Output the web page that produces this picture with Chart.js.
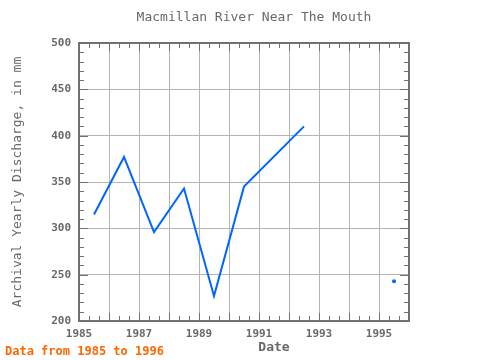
<!DOCTYPE html>
<html lang="en">
<head>
  <meta charset="UTF-8">
  <title>Macmillan River Near The Mouth</title>
  <script src="https://cdn.jsdelivr.net/npm/chart.js"></script>
  <style>
    body{margin:0;background:#fff;}
    #wrap{width:480px;height:360px;position:relative;}
  </style>
</head>
<body>
  <div id="wrap"><canvas id="chart" width="480" height="360"></canvas></div>
  <script>
    // yearly discharge, mm (mid-year points)
    const years = [1985.5, 1986.5, 1987.5, 1988.5, 1989.5, 1990.5, 1992.5, 1995.5];
    const discharge = [315, 377, 296, 343, 227, 345, 410, 243];
    const xTickLabels = [1985, 1987, 1989, 1991, 1993, 1995];
    const yTickLabels = [200, 250, 300, 350, 400, 450, 500];

    const font = "'DejaVu Sans Mono', monospace";
    const textGray = '#686868';
    const frameGray = '#707070';
    const maxGap = 2.5;

    const points = years.map((x, i) => ({x: x, y: discharge[i]}));

    function isolated(i){
      const prev = i > 0 ? years[i] - years[i-1] : Infinity;
      const next = i < years.length - 1 ? years[i+1] - years[i] : Infinity;
      return prev > maxGap && next > maxGap;
    }

    // frame, inward ticks, titles and footer
    const decor = {
      id: 'decor',
      afterDraw(chart){
        const c = chart.ctx, a = chart.chartArea;
        const xs = chart.scales.x, ys = chart.scales.y;
        c.save();
        c.strokeStyle = frameGray;
        c.lineWidth = 1;
        c.beginPath();
        for (let k = 0; k <= 33; k++) {
          const v = 1985 + k / 3;
          const px = Math.round(xs.getPixelForValue(v)) + 0.5;
          const len = k % 3 === 0 ? 8 : 5;
          c.moveTo(px, a.bottom); c.lineTo(px, a.bottom - len);
          c.moveTo(px, a.top); c.lineTo(px, a.top + len);
        }
        for (let v = 200; v <= 500; v += 10) {
          const py = Math.round(ys.getPixelForValue(v)) + 0.5;
          const len = v % 50 === 0 ? 9 : 5;
          c.moveTo(a.left, py); c.lineTo(a.left + len, py);
          c.moveTo(a.right, py); c.lineTo(a.right - len, py);
        }
        c.stroke();
        c.lineWidth = 2;
        c.strokeRect(a.left, a.top, a.right - a.left, a.bottom - a.top);

        c.fillStyle = textGray;
        c.textAlign = 'center';
        c.textBaseline = 'middle';
        c.font = '13px ' + font;
        c.fillText('Macmillan River Near The Mouth', 254, 18);
        c.save();
        c.translate(18, 182);
        c.rotate(-Math.PI / 2);
        c.fillText('Archival Yearly Discharge, in mm', 0, 0);
        c.restore();
        c.font = 'bold 13px ' + font;
        c.fillText('Date', 274, 348);

        c.fillStyle = '#ff6600';
        c.textAlign = 'left';
        c.font = 'bold 12px ' + font;
        c.fillText('Data from 1985 to 1996', 5, 352);
        c.restore();
      }
    };

    new Chart(document.getElementById('chart'), {
      type: 'line',
      data: {
        datasets: [{
          data: points,
          borderColor: '#0066ff',
          backgroundColor: '#0066ff',
          borderWidth: 2,
          fill: false,
          tension: 0,
          spanGaps: maxGap,
          pointRadius: ctx => isolated(ctx.dataIndex) ? 2 : 0,
          pointBorderWidth: 0
        }]
      },
      options: {
        responsive: false,
        animation: false,
        layout: {padding: {top: 43, right: 71, left: 0, bottom: 0}},
        plugins: {legend: {display: false}, tooltip: {enabled: false}},
        scales: {
          x: {
            type: 'linear',
            min: 1985, max: 1996,
            afterFit: s => { s.height = 39; },
            afterBuildTicks: s => {
              s.ticks = [];
              for (let v = 1985; v <= 1996; v++) s.ticks.push({value: v});
            },
            ticks: {
              color: textGray,
              font: {family: font, size: 11, weight: 'bold'},
              padding: 7,
              maxRotation: 0,
              autoSkip: false,
              callback: v => xTickLabels.includes(v) ? String(v) : ''
            },
            grid: {color: '#b4b4b4', drawTicks: false, lineWidth: 1},
            border: {display: false}
          },
          y: {
            min: 200, max: 500,
            afterFit: s => { s.width = 79; },
            afterBuildTicks: s => { s.ticks = yTickLabels.map(v => ({value: v})); },
            ticks: {
              color: textGray,
              font: {family: font, size: 11, weight: 'bold'},
              padding: 8
            },
            grid: {color: '#b4b4b4', drawTicks: false, lineWidth: 1},
            border: {display: false}
          }
        }
      },
      plugins: [decor]
    });
  </script>
</body>
</html>
